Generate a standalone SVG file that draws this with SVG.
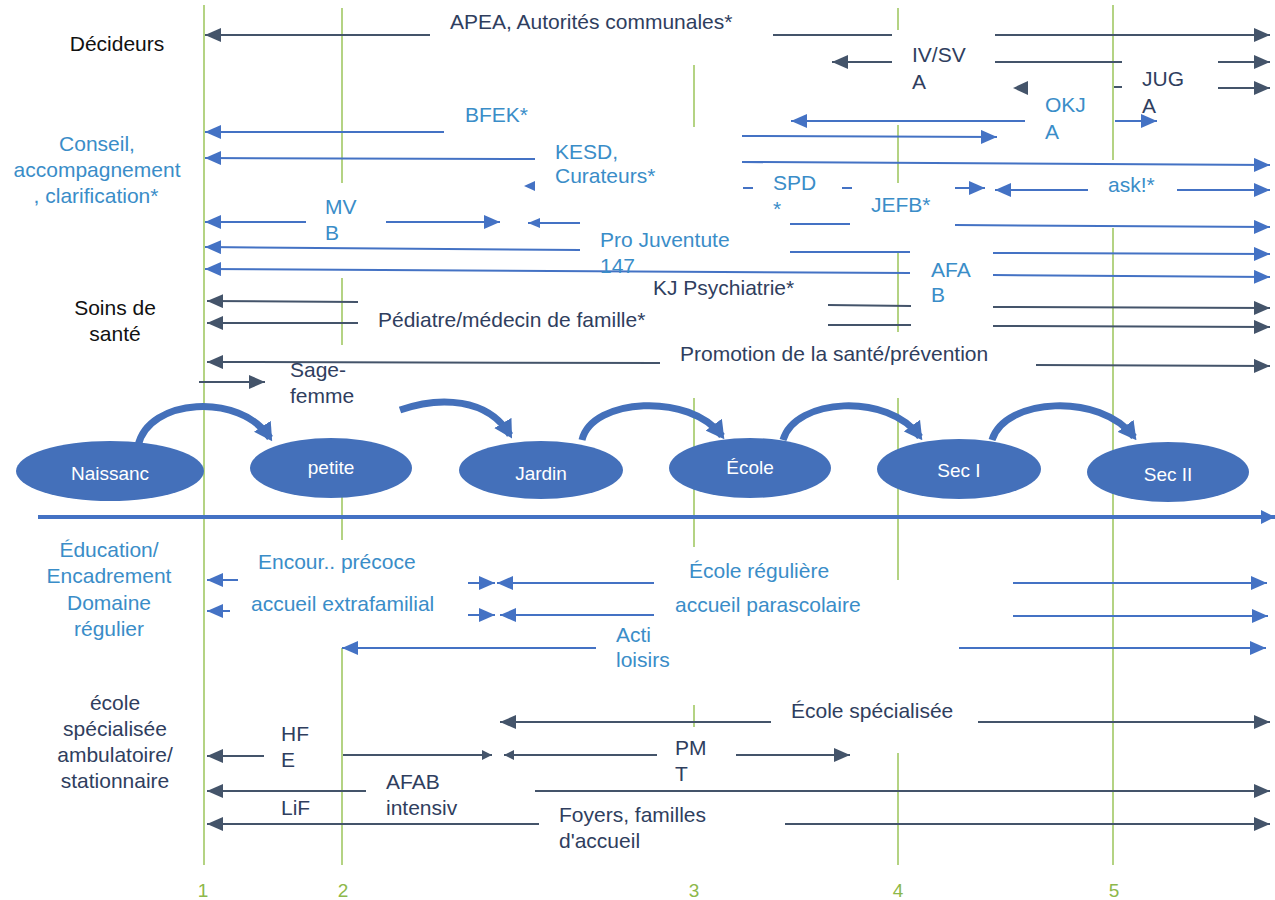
<svg xmlns="http://www.w3.org/2000/svg" width="1275" height="900" viewBox="0 0 1275 900">
<defs>
<marker id="hd" markerUnits="userSpaceOnUse" markerWidth="16" markerHeight="14" refX="16" refY="7" orient="auto"><path d="M0,0 L16,7 L0,14 z" fill="#44546A"/></marker>
<marker id="hb" markerUnits="userSpaceOnUse" markerWidth="16" markerHeight="14" refX="16" refY="7" orient="auto"><path d="M0,0 L16,7 L0,14 z" fill="#4472C4"/></marker>
<marker id="hdS" markerUnits="userSpaceOnUse" markerWidth="10" markerHeight="10" refX="10" refY="5" orient="auto"><path d="M0,0 L10,5 L0,10 z" fill="#44546A"/></marker>
<marker id="hbS" markerUnits="userSpaceOnUse" markerWidth="12" markerHeight="10" refX="12" refY="5" orient="auto"><path d="M0,0 L12,5 L0,10 z" fill="#4472C4"/></marker>
<marker id="hc" markerUnits="userSpaceOnUse" markerWidth="18" markerHeight="20" refX="14" refY="10" orient="auto"><path d="M0,0 L18,10 L0,20 z" fill="#4470BA"/></marker>
<marker id="hx" markerUnits="userSpaceOnUse" markerWidth="14" markerHeight="14" refX="14" refY="7" orient="auto"><path d="M0,0 L14,7 L0,14 z" fill="#4472C4"/></marker>
</defs>
<style>
.g{stroke:#9BC45A;stroke-width:1.5;fill:none}
.d{stroke:#44546A;stroke-width:2;fill:none}
.b{stroke:#4472C4;stroke-width:2;fill:none}
.ad{marker-end:url(#hd)}
.ab{marker-end:url(#hb)}
.adS{marker-end:url(#hdS)}
.abS{marker-end:url(#hbS)}
.cv{stroke:#4470BA;stroke-width:7;fill:none;marker-end:url(#hc)}
.ov{fill:#4470BA}
.hdp{fill:#44546A}
.hbp{fill:#4472C4}
text{font-family:"Liberation Sans",Arial,sans-serif;font-size:21px}
.tk{fill:#111}
.td{fill:#2F3E5E}
.tl{fill:#3A8DC8}
.tw{fill:#fff;font-size:19px;text-anchor:middle}
.tn{fill:#8DB84A;font-size:19px;text-anchor:middle}
.m{text-anchor:middle}
</style>

<g id="grid">
<line class="g" x1="204" y1="5" x2="204" y2="865"/>
<line class="g" x1="342" y1="8" x2="342" y2="183"/>
<line class="g" x1="342" y1="278" x2="342" y2="345"/>
<line class="g" x1="342" y1="465" x2="342" y2="540"/>
<line class="g" x1="342" y1="648" x2="342" y2="865"/>
<line class="g" x1="694" y1="65" x2="694" y2="127"/>
<line class="g" x1="694" y1="398" x2="694" y2="547"/>
<line class="g" x1="694" y1="705" x2="694" y2="727"/>
<line class="g" x1="898" y1="8" x2="898" y2="30"/>
<line class="g" x1="898" y1="125" x2="898" y2="183"/>
<line class="g" x1="898" y1="252" x2="898" y2="332"/>
<line class="g" x1="898" y1="398" x2="898" y2="580"/>
<line class="g" x1="898" y1="753" x2="898" y2="865"/>
<line class="g" x1="1113" y1="5" x2="1113" y2="160"/>
<line class="g" x1="1113" y1="228" x2="1113" y2="865"/>
</g>

<g id="connectors">
<!-- Décideurs -->
<line class="d ad" x1="430" y1="35" x2="205" y2="35"/>
<line class="d" x1="773" y1="35" x2="892" y2="35"/>
<line class="d ad" x1="995" y1="35" x2="1270" y2="35"/>
<line class="d ad" x1="892" y1="62" x2="832" y2="62"/>
<line class="d" x1="995" y1="62" x2="1122" y2="62"/>
<line class="d ad" x1="1218" y1="62" x2="1270" y2="62"/>
<polygon class="hdp" points="1013,88 1028,81 1028,95"/>
<line class="d" x1="1114" y1="87" x2="1122" y2="87"/>
<line class="d ad" x1="1218" y1="88" x2="1270" y2="88"/>
<!-- Conseil -->
<line class="b ab" x1="444" y1="132" x2="205" y2="132"/>
<line class="b ab" x1="1025" y1="121" x2="791" y2="121"/>
<line class="b ab" x1="1115" y1="121" x2="1157" y2="121"/>
<line class="b ab" x1="742" y1="136" x2="997" y2="137"/>
<line class="b ab" x1="535" y1="159" x2="205" y2="158"/>
<line class="b ab" x1="742" y1="162" x2="1270" y2="165"/>
<polygon class="hbp" points="524,186 535,181 535,191"/>
<line class="b" x1="743" y1="188" x2="753" y2="188"/>
<line class="b" x1="842" y1="188" x2="852" y2="188"/>
<line class="b ab" x1="955" y1="188" x2="985" y2="188"/>
<line class="b ab" x1="1088" y1="190" x2="995" y2="190"/>
<line class="b ab" x1="1177" y1="190" x2="1270" y2="190"/>
<line class="b ab" x1="306" y1="222" x2="205" y2="222"/>
<line class="b ab" x1="386" y1="222" x2="500" y2="222"/>
<line class="b abS" x1="580" y1="223" x2="528" y2="223"/>
<line class="b" x1="790" y1="224" x2="850" y2="224"/>
<line class="b ab" x1="955" y1="225" x2="1270" y2="227"/>
<line class="b ab" x1="580" y1="250" x2="205" y2="247"/>
<line class="b" x1="790" y1="252" x2="910" y2="252"/>
<line class="b ab" x1="993" y1="253" x2="1270" y2="254"/>
<line class="b ab" x1="910" y1="273" x2="205" y2="269"/>
<line class="b ab" x1="993" y1="275" x2="1270" y2="277"/>
<!-- Soins -->
<line class="d ad" x1="358" y1="302" x2="207" y2="301"/>
<line class="d" x1="828" y1="305" x2="911" y2="306"/>
<line class="d ad" x1="993" y1="307" x2="1270" y2="308"/>
<line class="d ad" x1="358" y1="323" x2="207" y2="323"/>
<line class="d" x1="828" y1="325" x2="911" y2="325"/>
<line class="d ad" x1="993" y1="326" x2="1270" y2="327"/>
<line class="d ad" x1="660" y1="363" x2="207" y2="362"/>
<line class="d ad" x1="1036" y1="365" x2="1270" y2="366"/>
<line class="d ad" x1="199" y1="382" x2="265" y2="382"/>
<!-- axis -->
<line stroke="#4472C4" stroke-width="4" x1="38" y1="517" x2="1275" y2="517" marker-end="url(#hx)"/>
<!-- Education -->
<line class="b ab" x1="238" y1="580" x2="207" y2="580"/>
<line class="b ab" x1="468" y1="583" x2="495" y2="583"/>
<line class="b ab" x1="654" y1="583" x2="497" y2="583"/>
<line class="b ab" x1="1013" y1="583" x2="1267" y2="583"/>
<line class="b ab" x1="230" y1="611" x2="207" y2="611"/>
<line class="b ab" x1="468" y1="615" x2="495" y2="615"/>
<line class="b ab" x1="654" y1="615" x2="500" y2="615"/>
<line class="b ab" x1="1013" y1="616" x2="1268" y2="616"/>
<line class="b ab" x1="596" y1="648" x2="342" y2="648"/>
<line class="b ab" x1="959" y1="648" x2="1266" y2="648"/>
<!-- école spécialisée -->
<line class="d ad" x1="771" y1="722" x2="500" y2="722"/>
<line class="d ad" x1="978" y1="722" x2="1270" y2="722"/>
<line class="d ad" x1="264" y1="756" x2="207" y2="756"/>
<line class="d adS" x1="343" y1="755" x2="492" y2="755"/>
<line class="d adS" x1="657" y1="755" x2="504" y2="755"/>
<line class="d ad" x1="736" y1="755" x2="850" y2="755"/>
<line class="d ad" x1="366" y1="791" x2="207" y2="791"/>
<line class="d ad" x1="535" y1="791" x2="1270" y2="791"/>
<line class="d ad" x1="539" y1="824" x2="207" y2="824"/>
<line class="d ad" x1="785" y1="824" x2="1270" y2="824"/>
<!-- curved stage arrows -->
<path class="cv" d="M138,446 C148,398 240,392 270,438"/>
<path class="cv" d="M400,410 C440,396 488,398 510,435"/>
<path class="cv" d="M582,440 C592,398 690,392 722,436"/>
<path class="cv" d="M783,440 C795,398 888,392 920,437"/>
<path class="cv" d="M992,440 C1005,398 1100,392 1134,437"/>
</g>

<g id="stage-naissance"><ellipse class="ov" cx="110" cy="471" rx="94" ry="30"/><text class="tw" x="110" y="480">Naissanc</text></g>
<g id="stage-petite"><ellipse class="ov" cx="331" cy="468" rx="81" ry="30"/><text class="tw" x="331" y="474">petite</text></g>
<g id="stage-jardin"><ellipse class="ov" cx="541" cy="470" rx="82" ry="29"/><text class="tw" x="541" y="480">Jardin</text></g>
<g id="stage-ecole"><ellipse class="ov" cx="750" cy="468" rx="81" ry="30"/><text class="tw" x="750" y="474">École</text></g>
<g id="stage-sec1"><ellipse class="ov" cx="959" cy="469" rx="82" ry="30"/><text class="tw" x="959" y="477">Sec I</text></g>
<g id="stage-sec2"><ellipse class="ov" cx="1168" cy="472" rx="81" ry="30"/><text class="tw" x="1168" y="481">Sec II</text></g>

<g id="cat-decideurs"><text class="tk m" x="117" y="51">Décideurs</text></g>
<g id="cat-conseil"><text class="tl m" x="97" y="151">Conseil,<tspan x="97" dy="26">accompagnement</tspan><tspan x="96" dy="26">, clarification*</tspan></text></g>
<g id="cat-soins"><text class="tk m" x="115" y="315">Soins de<tspan x="115" dy="26">santé</tspan></text></g>
<g id="cat-education"><text class="tl m" x="109" y="557">Éducation/<tspan x="109" dy="26">Encadrement</tspan><tspan x="109" dy="27">Domaine</tspan><tspan x="109" dy="26">régulier</tspan></text></g>
<g id="cat-ecole-spec"><text class="td m" x="115" y="710">école<tspan x="115" dy="26">spécialisée</tspan><tspan x="115" dy="26">ambulatoire/</tspan><tspan x="115" dy="26">stationnaire</tspan></text></g>

<g id="lbl-apea"><text class="td" x="450" y="29">APEA, Autorités communales*</text></g>
<g id="lbl-ivsva"><text class="td" x="912" y="62">IV/SV<tspan x="912" dy="27">A</tspan></text></g>
<g id="lbl-juga"><text class="td" x="1142" y="86">JUG<tspan x="1142" dy="27">A</tspan></text></g>
<g id="lbl-bfek"><text class="tl" x="465" y="122">BFEK*</text></g>
<g id="lbl-okja"><text class="tl" x="1045" y="112">OKJ<tspan x="1045" dy="27">A</tspan></text></g>
<g id="lbl-kesd"><text class="tl" x="555" y="159">KESD,<tspan x="555" dy="24">Curateurs*</tspan></text></g>
<g id="lbl-spd"><text class="tl" x="773" y="190">SPD<tspan x="773" dy="26">*</tspan></text></g>
<g id="lbl-ask"><text class="tl" x="1108" y="192">ask!*</text></g>
<g id="lbl-mvb"><text class="tl" x="325" y="214">MV<tspan x="325" dy="26">B</tspan></text></g>
<g id="lbl-jefb"><text class="tl" x="871" y="212">JEFB*</text></g>
<g id="lbl-projuv"><text class="tl" x="600" y="247">Pro Juventute<tspan x="600" dy="26">147</tspan></text></g>
<g id="lbl-afab"><text class="tl" x="931" y="277">AFA<tspan x="931" dy="25">B</tspan></text></g>
<g id="lbl-kjpsy"><text class="td" x="653" y="295">KJ Psychiatrie*</text></g>
<g id="lbl-pediatre"><text class="td" x="378" y="327">Pédiatre/médecin de famille*</text></g>
<g id="lbl-promo"><text class="td" x="680" y="361">Promotion de la santé/prévention</text></g>
<g id="lbl-sage"><text class="td" x="290" y="377">Sage-<tspan x="290" dy="26">femme</tspan></text></g>
<g id="lbl-encour"><text class="tl" x="258" y="569" font-size="20">Encour.. précoce</text></g>
<g id="lbl-ecolereg"><text class="tl" x="689" y="578">École régulière</text></g>
<g id="lbl-extrafam"><text class="tl" x="251" y="611">accueil extrafamilial</text></g>
<g id="lbl-parasco"><text class="tl" x="675" y="612">accueil parascolaire</text></g>
<g id="lbl-loisirs"><text class="tl" x="616" y="642">Acti<tspan x="616" dy="25">loisirs</tspan></text></g>
<g id="lbl-ecolespec"><text class="td" x="791" y="718">École spécialisée</text></g>
<g id="lbl-hfe"><text class="td" x="281" y="741">HF<tspan x="281" dy="26">E</tspan></text></g>
<g id="lbl-pmt"><text class="td" x="675" y="755">PM<tspan x="675" dy="26">T</tspan></text></g>
<g id="lbl-afabint"><text class="td" x="386" y="789">AFAB<tspan x="386" dy="26">intensiv</tspan></text></g>
<g id="lbl-lif"><text class="td" x="281" y="815">LiF</text></g>
<g id="lbl-foyers"><text class="td" x="559" y="822">Foyers, familles<tspan x="559" dy="26">d'accueil</tspan></text></g>

<g id="axis-numbers">
<text class="tn" x="203" y="897">1</text>
<text class="tn" x="343" y="897">2</text>
<text class="tn" x="694" y="897">3</text>
<text class="tn" x="898" y="897">4</text>
<text class="tn" x="1114" y="897">5</text>
</g>
</svg>
